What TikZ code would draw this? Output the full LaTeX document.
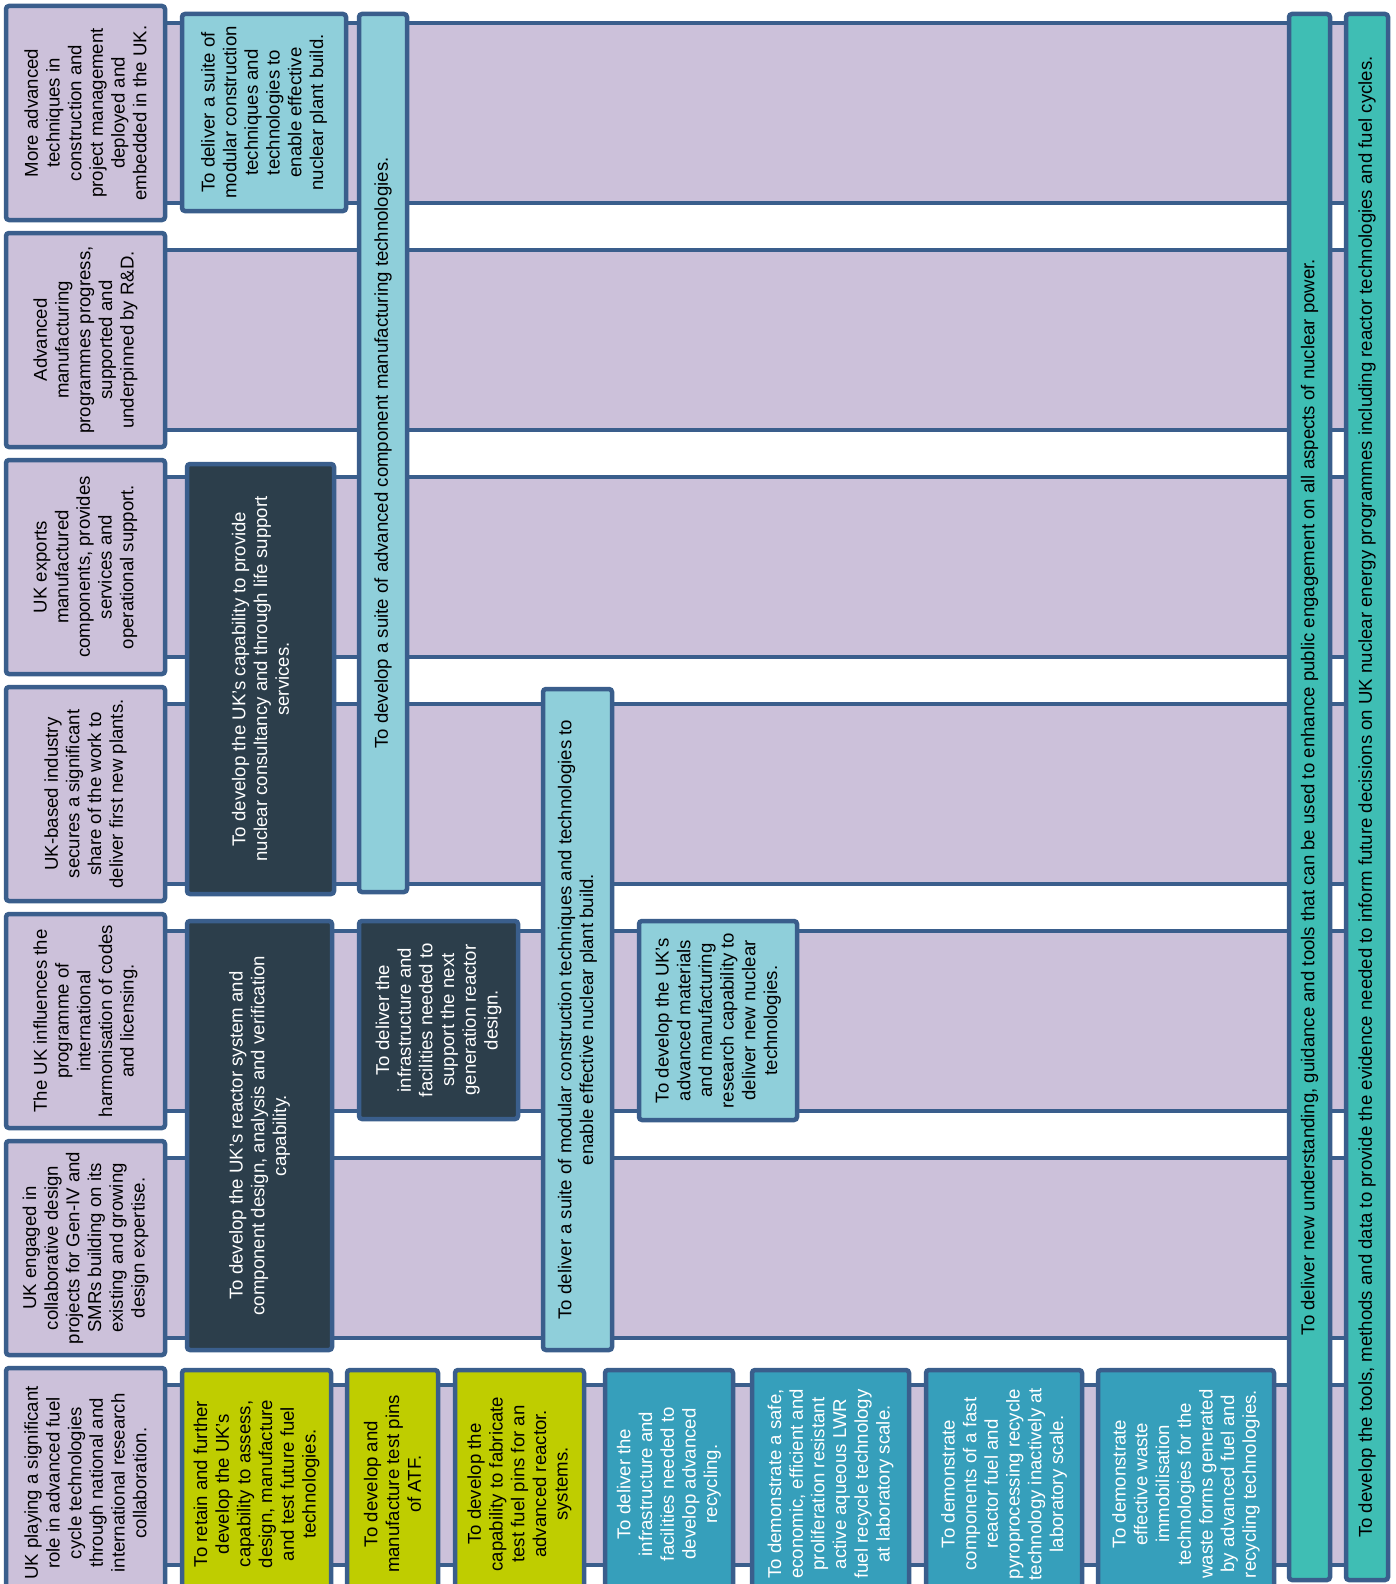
\documentclass[tikz,border=0pt]{standalone}
\usepackage{fontspec}
\setmainfont{Liberation Sans}
\usepackage{tikz}

\definecolor{lavender}{HTML}{CCC1DA}
\definecolor{edgeblue}{HTML}{3A5E8C}
\definecolor{paleaqua}{HTML}{8FCFDA}
\definecolor{slate}{HTML}{2C3E4B}
\definecolor{limegreen}{HTML}{BFCD00}
\definecolor{oceanblue}{HTML}{369FBB}
\definecolor{seateal}{HTML}{3FBEB4}

\begin{document}
\begin{tikzpicture}[x=1pt, y=-1pt,
    font=\fontsize{18.6}{21.7}\selectfont,
    band/.style={draw=edgeblue, line width=4pt, fill=lavender},
    card/.style={draw=edgeblue, line width=4.5pt, rounded corners=3pt, rectangle, rotate=90, align=center, text centered, inner sep=2pt},
    outcome/.style={card, fill=lavender},
    aquabox/.style={card, fill=paleaqua},
    slatebox/.style={card, fill=slate, text=white},
    fuelbox/.style={card, fill=limegreen},
    recyclebox/.style={card, fill=oceanblue, text=white},
    crossbox/.style={card, fill=seateal}]

    \path[use as bounding box, fill=white] (0,0) rectangle (1396,1584);
    \clip (0,0) rectangle (1396,1584);

    % Bands running from each outcome across the page
    \draw[band] (160,23) rectangle (1388,203);
    \draw[band] (160,250) rectangle (1388,430);
    \draw[band] (160,477) rectangle (1388,657);
    \draw[band] (160,704) rectangle (1388,884);
    \draw[band] (160,931) rectangle (1388,1111);
    \draw[band] (160,1158) rectangle (1388,1338);
    \draw[band] (160,1385) rectangle (1388,1565);

    % Outcomes in the left column
    \node (construction) [outcome, minimum width=214pt, minimum height=159pt] at (85.5,113) {More advanced\\techniques in\\construction and\\project management\\deployed and\\embedded in the UK.};
    \node (manufacturing) [outcome, minimum width=214pt, minimum height=159pt] at (85.5,340) {Advanced\\manufacturing\\programmes progress,\\supported and\\underpinned by R\&D.};
    \node (exports) [outcome, minimum width=214pt, minimum height=159pt] at (85.5,567) {UK exports\\manufactured\\components, provides\\services and\\operational support.};
    \node (newplants) [outcome, minimum width=214pt, minimum height=159pt] at (85.5,794) {UK-based industry\\secures a significant\\share of the work to\\deliver first new plants.};
    \node (codes) [outcome, minimum width=214pt, minimum height=159pt] at (85.5,1021) {The UK influences the\\programme of\\international\\harmonisation of codes\\and licensing.};
    \node (geniv) [outcome, minimum width=214pt, minimum height=159pt] at (85.5,1248) {UK engaged in\\collaborative design\\projects for Gen-IV and\\SMRs building on its\\existing and growing\\design expertise.};
    \node (fuelcycle) [outcome, minimum width=230pt, minimum height=159pt] at (85.5,1483) {UK playing a significant\\role in advanced fuel\\cycle technologies\\through national and\\international research\\collaboration.};

    % Reactor design and construction aims
    \node (modularA) [aquabox, minimum width=197pt, minimum height=164pt] at (264,112.5) {To deliver a suite of\\modular construction\\techniques and\\technologies to\\enable effective\\nuclear plant build.};
    \node (component) [aquabox, minimum width=878pt, minimum height=48pt] at (383,453) {To develop a suite of advanced component manufacturing technologies.};
    \node (consultancy) [slatebox, minimum width=430pt, minimum height=147pt] at (260.5,679) {To develop the UK’s capability to provide\\nuclear consultancy and through life support\\services.};
    \node (reactor) [slatebox, minimum width=429pt, minimum height=145pt] at (259.5,1135.5) {To develop the UK’s reactor system and\\component design, analysis and verification\\capability.};
    \node (nextgen) [slatebox, minimum width=198pt, minimum height=159pt] at (438.5,1020) {To deliver the\\infrastructure and\\facilities needed to\\support the next\\generation reactor\\design.};
    \node (modularB) [aquabox, minimum width=661pt, minimum height=69pt] at (577.5,1019.5) {To deliver a suite of modular construction techniques and technologies to\\enable effective nuclear plant build.};
    \node (materials) [aquabox, minimum width=199pt, minimum height=158pt] at (718,1020.5) {To develop the UK’s\\advanced materials\\and manufacturing\\research capability to\\deliver new nuclear\\technologies.};

    % Fuel and recycling aims along the bottom
    \node (fueltech) [fuelbox, minimum width=228pt, minimum height=149pt] at (256.5,1484) {To retain and further\\develop the UK’s\\capability to assess,\\design, manufacture\\and test future fuel\\technologies.};
    \node (atf) [fuelbox, minimum width=228pt, minimum height=91pt] at (392.5,1484) {To develop and\\manufacture test pins\\of ATF.};
    \node (testpins) [fuelbox, minimum width=228pt, minimum height=129pt] at (519.5,1484) {To develop the\\capability to fabricate\\test fuel pins for an\\advanced reactor.\\systems.};
    \node (recycling) [recyclebox, minimum width=228pt, minimum height=128pt] at (669,1484) {To deliver the\\infrastructure and\\facilities needed to\\develop advanced\\recycling.};
    \node (aqueous) [recyclebox, minimum width=228pt, minimum height=157pt] at (830.5,1484) {To demonstrate a safe,\\economic, efficient and\\proliferation resistant\\active aqueous LWR\\fuel recycle technology\\at laboratory scale.};
    \node (pyro) [recyclebox, minimum width=228pt, minimum height=156pt] at (1004,1484) {To demonstrate\\components of a fast\\reactor fuel and\\pyroprocessing recycle\\technology inactively at\\laboratory scale.};
    \node (waste) [recyclebox, minimum width=228pt, minimum height=176pt] at (1186,1484) {To demonstrate\\effective waste\\immobilisation\\technologies for the\\waste forms generated\\by advanced fuel and\\recycling technologies.};

    % Aims that cut across all outcomes
    \node (public) [crossbox, minimum width=1566pt, minimum height=41pt] at (1309.5,797) {To deliver new understanding, guidance and tools that can be used to enhance public engagement on all aspects of nuclear power.};
    \node (evidence) [crossbox, minimum width=1566pt, minimum height=42pt] at (1367,797) {To develop the tools, methods and data to provide the evidence needed to inform future decisions on UK nuclear energy programmes including reactor technologies and fuel cycles.};

\end{tikzpicture}
\end{document}
